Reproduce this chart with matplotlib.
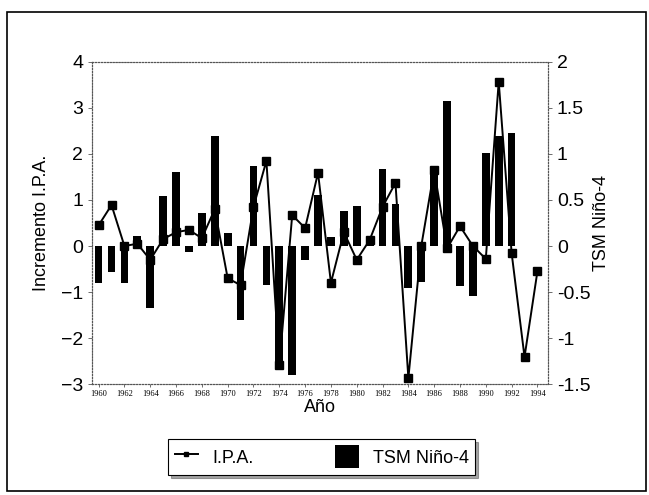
import matplotlib.pyplot as plt
import numpy as np
from matplotlib.patches import Rectangle

plt.rcParams['font.family'] = ['Liberation Sans', 'DejaVu Sans']

# data
years = np.arange(1960, 1995)
ipa = [0.45, 0.89, 0.0, 0.05, -0.3, 0.15, 0.3, 0.35, 0.17, 0.8,
       -0.7, -0.85, 0.85, 1.85, -2.59, 0.67, 0.39, 1.59, -0.8, 0.3,
       -0.3, 0.13, 0.85, 1.37, -2.87, 0.0, 1.65, -0.05, 0.43, 0.0,
       -0.28, 3.57, -0.15, -2.41, -0.55]
tsm = [-0.4, -0.28, -0.4, 0.11, -0.67, 0.54, 0.8, -0.07, 0.36, 1.19,
       0.14, -0.8, 0.87, -0.42, -1.33, -1.4, -0.15, 0.55, 0.1, 0.38,
       0.43, 0.05, 0.84, 0.46, -0.46, -0.39, 0.8, 1.58, -0.43, -0.54,
       1.01, 1.2, 1.23, 0.0, 0.0]
left_ticks = [4, 3, 2, 1, 0, -1, -2, -3]
right_ticks = [2, 1.5, 1, 0.5, 0, -0.5, -1, -1.5]
right_labels = ['2', '1.5', '1', '0.5', '0', '-0.5', '-1', '-1.5']
year_ticks = np.arange(1960, 1995, 2)

fig = plt.figure(figsize=(6.49, 4.95), dpi=100)
fig.patches.append(Rectangle((0.011, 0.008), 0.984, 0.968, transform=fig.transFigure,
                             fill=False, edgecolor='black', linewidth=1.2))

ax = fig.add_axes([0.142, 0.224, 0.702, 0.651])
ax2 = ax.twinx()

# bars on right axis, drawn under the line
ax2.bar(years, tsm, width=0.6, color='black', label='TSM Niño-4', zorder=1)
ax2.set_ylim(-1.5, 2)
ax2.set_yticks(right_ticks)
ax2.set_yticklabels(right_labels)
ax2.set_ylabel('TSM Niño-4', fontsize=13, labelpad=2)

ax.set_zorder(ax2.get_zorder() + 1)
ax.patch.set_visible(False)
ax.plot(years, ipa, color='black', marker='s', markersize=6, linewidth=1.4,
        label='I.P.A.', zorder=3)
ax.set_ylim(-3, 4)
ax.set_yticks(left_ticks)
ax.set_xlim(1959.5, 1994.8)
ax.set_xticks(year_ticks)
ax.set_xticklabels([str(y) for y in year_ticks], fontsize=6, family='Liberation Serif')
ax.set_xlabel('Año', fontsize=13, labelpad=1)
ax.set_ylabel('Incremento I.P.A.', fontsize=13, labelpad=8)

for a in (ax, ax2):
    for s in a.spines.values():
        s.set_linestyle(':')
        s.set_linewidth(0.8)
        s.set_color('#555555')
    a.tick_params(axis='y', labelsize=14, length=3, width=0.6, color='#555555')
ax.tick_params(axis='x', length=2, width=0.6, color='#555555', pad=2)

h1, l1 = ax.get_legend_handles_labels()
h2, l2 = ax2.get_legend_handles_labels()
leg = fig.legend(h1 + h2, l1 + l2, loc='center', bbox_to_anchor=(0.496, 0.077),
                 ncol=2, fontsize=13, frameon=True, fancybox=False, shadow=True,
                 handlelength=1.3, handleheight=1.6, columnspacing=4.5,
                 borderpad=0.35, markerscale=0.6)
leg.get_frame().set_edgecolor('black')
leg.get_frame().set_linewidth(0.8)

plt.savefig('out.png', dpi=100)
